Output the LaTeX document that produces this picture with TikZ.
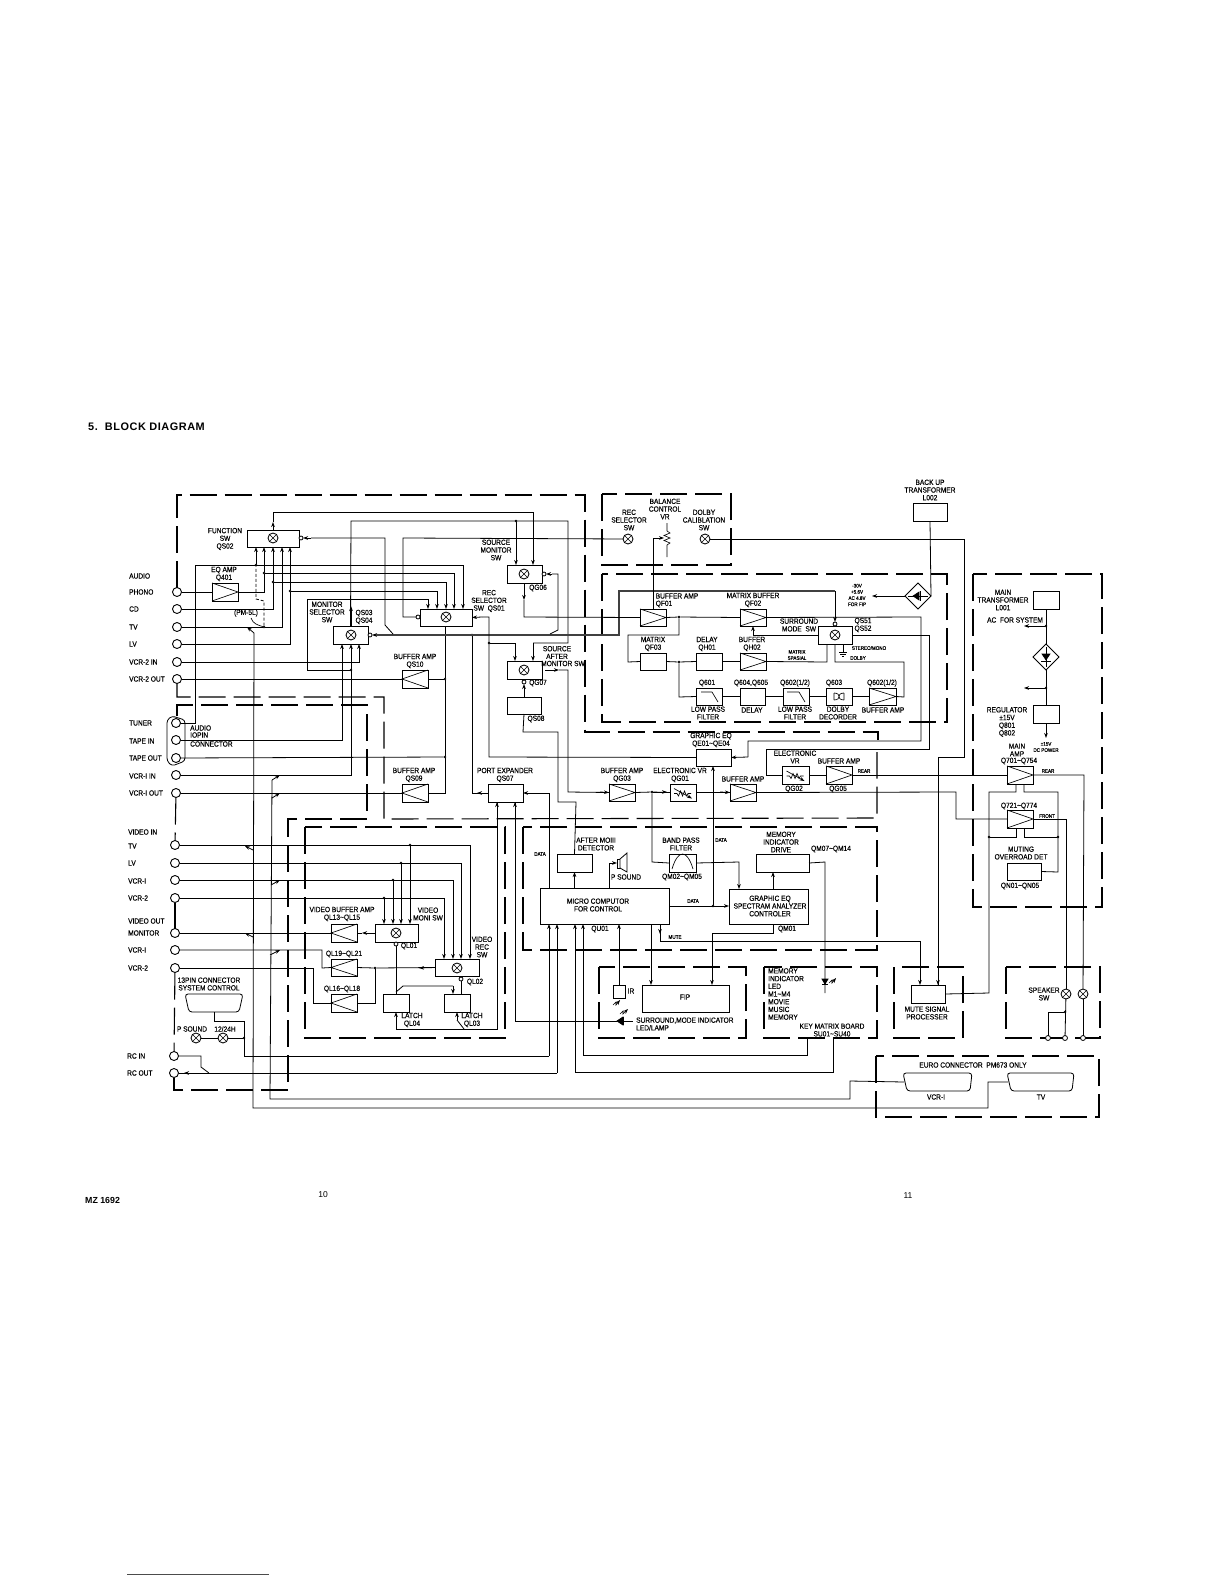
\documentclass[tikz,border=0pt]{standalone}
\usepackage{fontspec}
\usetikzlibrary{arrows.meta,shapes.geometric}
\setmainfont{Liberation Sans}
\newfontfamily\lab{Liberation Sans}[FakeStretch=0.88,FakeBold=0.12]
\newfontfamily\ttlf{Liberation Sans}[LetterSpace=5]
\newcounter{lbl}
\tikzset{
  x=1pt,y=-1pt,
  sig/.style={draw=black,line width=0.8pt,line join=miter},
  dsh/.style={draw=black,line width=1.1pt,dash pattern=on 27pt off 8pt},
  thin sym/.style={draw=black,line width=0.65pt},
  >={Stealth[length=5pt,width=3.6pt]},
  box/.style={draw=black,line width=0.95pt,rectangle,inner sep=0pt,outer sep=0pt,fill=white},
  lb/.style={font=\lab\fontsize{7.5}{7.7}\selectfont,inner sep=0pt,align=center,text=black},
  lbl/.style={lb,align=left,anchor=west},
  tiny lb/.style={font=\lab\fontsize{5.2}{6.2}\selectfont,inner sep=0pt,align=center,text=black},
  jd/.style={circle,fill=black,inner sep=0pt,minimum size=2.8pt,outer sep=0pt},
  smc/.style={circle,draw=black,line width=0.8pt,fill=white,inner sep=0pt,minimum size=4pt,outer sep=0pt},
  cnc/.style={circle,draw=black,line width=0.9pt,fill=white,inner sep=0pt,minimum size=9pt,outer sep=0pt},
  xc/.style={circle,draw=black,line width=0.85pt,fill=white,inner sep=0pt,minimum size=10pt,outer sep=0pt},
  dia/.style={diamond,draw=black,line width=0.95pt,aspect=1,inner sep=0pt,minimum size=26pt,outer sep=0pt,fill=white}
}
\newcommand{\bx}[5]{\pgfmathsetmacro\bw{#4-#2}\pgfmathsetmacro\bh{#5-#3}\node[box,minimum width=\bw pt,minimum height=\bh pt] (#1) at ({(#2+#4)/2},{(#3+#5)/2}) {};}
\newcommand{\ampR}[5]{\bx{#1}{#2}{#3}{#4}{#5}\draw[thin sym] (#1.north west) -- (#1.east) -- (#1.south west);}
\newcommand{\ampL}[5]{\bx{#1}{#2}{#3}{#4}{#5}\draw[thin sym] (#1.north east) -- (#1.west) -- (#1.south east);}
\newcommand{\xcr}[3]{\node[xc] (#1) at (#2,#3) {};\draw[thin sym] (#1.45) -- (#1.225) (#1.135) -- (#1.315);}
\newcommand{\jun}[3]{\node[jd] (#1) at (#2,#3) {};}
\newcommand{\smc}[3]{\node[smc] (#1) at (#2,#3) {};}
\newcommand{\cn}[3]{\node[cnc] (#1) at (#2,#3) {};}
\newcommand{\tx}[3]{\stepcounter{lbl}\node[lb] (t\arabic{lbl}) at (#1,#2) {#3};}
\newcommand{\tl}[3]{\stepcounter{lbl}\node[lbl] (t\arabic{lbl}) at (#1,#2) {#3};}
\newcommand{\ty}[3]{\stepcounter{lbl}\node[tiny lb] (t\arabic{lbl}) at (#1,#2) {#3};}
\newcommand{\til}{{\char"007E}}
\newcommand{\vrsym}[1]{\draw[thin sym] ([xshift=-9pt,yshift=-1pt]#1.center) -- ([xshift=-6pt,yshift=-1pt]#1.center) -- ++(1.5,2.5) -- ++(2,-5) -- ++(2,5) -- ++(2,-5) -- ++(2,5) -- ++(1.5,-2.5) -- ++(3,0);\draw[thin sym,->] ([xshift=-9pt,yshift=4pt]#1.center) -- ([xshift=9pt,yshift=-6pt]#1.center);}
\begin{document}
\begin{tikzpicture}
\useasboundingbox (0,0) rectangle (1224,1584);
\fill[white] (0,0) rectangle (1224,1584);
% connectors
\cn{cPh}{177}{592}\cn{cCd}{177}{609}\cn{cTv}{177}{627}\cn{cLv}{177}{644}\cn{cV2i}{177}{662}\cn{cV2o}{177}{679}
\cn{cTun}{176}{723}\cn{cTi}{176}{740}\cn{cTo}{176}{758}\cn{cV1i}{176}{775}\cn{cV1o}{176}{793}
\cn{vTv}{175}{845}\cn{vLv}{175}{863}\cn{vV1}{175}{880}\cn{vV2}{175}{898}\cn{vMo}{175}{933}\cn{vO1}{175}{950}\cn{vO2}{175}{968}
\cn{cRi}{174}{1056}\cn{cRo}{174}{1073}
% dashed frames
\draw[dsh] (cPh) -- (177,495) -- (585,495) -- (585,732) -- (878,732) -- (878,740);
\draw[dsh] (cV2o) -- (177,697) -- (384,697) -- (384,819) -- (877,818) -- (877,752);
\draw[dsh] (177,716) -- (177,705) -- (367,705) -- (367,819) -- (288,819) -- (288,1090) -- (174,1090) -- (cRo);
\draw[dsh] (cV1o) -- (vTv);
\draw[dsh] (vV2) -- (vMo);
\draw[dsh] (vO2) -- (cRi);
\draw[dsh] (305,827) rectangle (505,1038);
\draw[dsh] (523,827) rectangle (877,950);
\draw[dsh] (602,494) rectangle (731,565);
\draw[dsh] (602,574) rectangle (947,722);
\draw[dsh] (973,574) rectangle (1102,907);
\draw[dsh] (599,967) rectangle (746,1038);
\draw[dsh] (764,967) rectangle (877,1038);
\draw[dsh] (894,967) rectangle (963,1038);
\draw[dsh] (1006,967) rectangle (1100,1038);
\draw[dsh] (876,1056) rectangle (1099,1117);
% 10 pin and other connector outlines
\draw[sig,rounded corners=3pt] (172,716) -- (167,720) -- (167,761) -- (172,766) -- (185,761) -- (185,720) -- cycle;
\draw[sig,rounded corners=3pt] (185,994) -- (243,994) -- (239,1012) -- (189,1012) -- cycle;
\coordinate (c13) at (214,1012);
\draw[sig,rounded corners=3pt] (903,1073) -- (972,1073) -- (970,1091) -- (907,1091) -- cycle;
\coordinate (eV) at (904,1082);
\draw[sig,rounded corners=3pt] (1007,1073) -- (1074,1073) -- (1072,1091) -- (1011,1091) -- cycle;
\coordinate (eT) at (1008,1082);
% junctions
\jun{j1}{256}{565}\jun{j2}{264}{573}\jun{j3}{273}{582}\jun{j4}{290}{591}\jun{j5}{264}{627}
\jun{j6}{351}{670}\jun{j7}{516}{521}\jun{j8}{445}{679}\jun{j9}{445}{757}\jun{j10}{489}{643}\jun{j11}{472}{635}
\jun{j12}{679}{617}\jun{j13}{679}{662}\jun{j14}{652}{792}\jun{j15}{713}{906}
\jun{j16}{410}{845}\jun{j17}{401}{863}\jun{j18}{393}{880}\jun{j19}{384}{898}\jun{j20}{375}{968}\jun{j21}{244}{1038}
\jun{j22}{1046}{626}\jun{j23}{1046}{688}\jun{j24}{989}{837}\jun{j25}{1058}{837}\jun{j26}{1065}{1012}
% boxes
\bx{qs02}{247}{530}{299}{547}\xcr{xqs02}{273}{538}
\ampR{q401}{212}{583}{238}{601}
\bx{qs01}{420}{609}{472}{626}\xcr{xqs01}{446}{617}
\bx{qs03}{333}{626}{368}{644}\xcr{xqs03}{351}{635}
\bx{qg06}{507}{565}{542}{583}\xcr{xqg06}{524}{574}
\bx{qg07}{507}{661}{542}{679}\xcr{xqg07}{524}{670}
\bx{qs08}{507}{697}{541}{714}
\ampL{qs10}{402}{670}{428}{688}
\ampL{qs09}{402}{784}{428}{802}
\bx{qs07}{488}{784}{523}{802}
\ampR{qg03}{609}{784}{635}{801}
\bx{qg01}{670}{784}{696}{801}\vrsym{qg01}
\ampR{qbuf}{730}{784}{756}{801}
\bx{qe01}{696}{749}{731}{766}
\bx{qg02}{782}{766}{809}{784}\vrsym{qg02}
\ampR{qg05}{826}{766}{852}{784}
\ampR{qf01}{640}{609}{666}{626}
\ampR{qf02}{740}{609}{766}{626}
\bx{qf03}{640}{653}{666}{670}
\bx{qh01}{696}{653}{722}{670}
\ampR{qh02}{740}{653}{766}{670}
\bx{qs51}{818}{626}{852}{644}\xcr{xqs51}{835}{635}
\bx{q601}{696}{688}{722}{705}\draw[thin sym] (701,692) -- (712,692) -- (718,702);
\bx{q604}{740}{688}{765}{705}
\bx{q602}{783}{688}{809}{705}\draw[thin sym] (787,692) -- (799,692) -- (805,702);
\bx{q603}{826}{688}{852}{705}\draw[thin sym] (834,693) -- (834,700) (834,693) .. controls (841,693) and (841,700) .. (834,700) (844,693) -- (844,700) (844,693) .. controls (837,693) and (837,700) .. (844,700);
\ampR{q602b}{869}{688}{896}{705}
\bx{l002}{913}{503}{947}{521}
\node[dia] (br2) at (918,596) {};
\draw[thin sym,fill=black] (913,596) -- (919,592) -- (919,600) -- cycle;\draw[thin sym] (908,596) -- (928,596) (920,591) -- (920,601);
\bx{l001}{1033}{591}{1059}{609}
\node[dia] (br1) at (1046,657) {};
\draw[thin sym,fill=black] (1042,654) -- (1050,654) -- (1046,660) -- cycle;\draw[thin sym] (1046,647) -- (1046,667) (1041,661) -- (1051,661);
\bx{q801}{1033}{705}{1059}{723}
\ampR{q701}{1007}{766}{1033}{784}
\ampR{q721}{1007}{810}{1033}{828}
\bx{qn01}{1007}{863}{1041}{880}
\bx{mc}{540}{888}{669}{924}
\bx{det}{557}{854}{592}{872}
\bx{bpf}{669}{854}{696}{872}\draw[thin sym] (672,869) .. controls (678,849) and (687,849) .. (693,869);
\bx{mdr}{756}{854}{809}{872}
\bx{geq}{729}{889}{808}{924}
\bx{ir}{613}{985}{625}{998}
\bx{fip}{642}{985}{729}{1012}
\bx{msp}{911}{985}{945}{1003}
\bx{ql01}{375}{924}{418}{942}\xcr{xql01}{396}{933}
\bx{ql02}{435}{959}{479}{976}\xcr{xql02}{457}{968}
\ampL{ql13}{331}{924}{357}{942}
\ampL{ql19}{331}{959}{357}{976}
\ampL{ql16}{331}{994}{357}{1012}
\bx{ql04}{383}{994}{409}{1012}
\bx{ql03}{444}{994}{470}{1012}
\xcr{xrec}{628}{539}\xcr{xdol}{705}{539}
\xcr{xps}{196}{1038}\xcr{xtf}{223}{1038}
\xcr{xsp1}{1066}{994}\xcr{xsp2}{1083}{994}
\node[smc,minimum size=5pt] (s1) at (1048,1038) {};
\node[smc,minimum size=5pt] (s2) at (1065,1038) {};
\node[smc,minimum size=5pt] (s3) at (1083,1038) {};
\smc{sq2}{301}{538}\smc{sq1}{418}{617}\smc{sq3}{370}{635}\smc{sq6}{544}{574}\smc{sq7}{524}{682}\smc{sq51}{835}{624}\smc{sl1}{396}{944}\smc{sl2}{461}{979}
% QS02/QS01 feeds
\draw[sig,->] (j1) -- (256,0 |- qs02.south);
\draw[sig,->] (j2) -- (264,0 |- qs02.south);
\draw[sig,->] (j3) -- (273,0 |- qs02.south);
\draw[sig,->] (j5) -| (282,0 |- qs02.south);
\draw[sig,->] (j4) -- (290,0 |- qs02.south);
\draw[sig,->] (cTun) -| (195,565) -- (463,565) -- (463,0 |- qs01.north);
\draw[sig,->] (j2) -- (454,573) -- (454,0 |- qs01.north);
\draw[sig,->] (j3) -- (446,582) -- (446,0 |- qs01.north);
\draw[sig,->] (j4) -- (437,591) -- (437,0 |- qs01.north);
\draw[sig,->] (j6) -- (307,670) -- (307,599) -- (428,599) -- (428,0 |- qs01.north);
\draw[sig] (cPh) -- (q401.west);
\draw[sig] (q401.east) -- (264,592) -- (j2);
\draw[sig] (cCd) -- (273,609) -- (j3);
\draw[sig] (cTv) -- (j5);
\draw[sig,dash pattern=on 3pt off 2pt] (j5) -- (264,601) -- (256,599) -- (j1);
\draw[sig] (cLv) -- (290,644) -- (j4);
\draw[thin sym] (251,618) .. controls (253,624) and (258,625) .. (j5);
% QS03 feeds
\draw[sig,->] (cV2i) -- (359,662) -- (359,0 |- qs03.south);
\draw[sig,->] (cV1i) -- (351,775) -- (351,0 |- qs03.south);
\draw[sig,->] (cTi) -- (342,740) -- (342,0 |- qs03.south);
\draw[sig] (cV2o) -- (qs10.west);
\draw[sig] (qs10.east) -- (j8);
\draw[sig] (cV1o) -- (qs09.west);
\draw[sig] (qs09.east) -- (445,793) -- (j9);
\draw[sig] (j9) -- (j8);
\draw[sig] (j8) -- (445,0 |- qs01.south);
\draw[sig] (cTo) -- (j9);
% monitor out
\draw[sig] (qs03.north) -- (351,521) -- (568,521) -- (568,643) -- (533,643);
\draw[sig,->] (351,626) -- (351,606);
\draw[sig,->] (j7) -- (516,0 |- qg06.north);
\draw[sig,->] (533,643) -- (533,0 |- qg07.north);
\draw[sig,->] (qs02.north) -- (273,522);
\draw[sig] (273,522) -- (273,512) -- (533,512);
\draw[sig,->] (533,512) -- (533,0 |- qg06.north);
% control bus
\draw[sig,<-] (sq3) -- (385,635);
\draw[sig,line width=1.2pt,draw=black!75] (376,635) -- (619,635) -- (619,591) -- (835,591);
\draw[sig,->] (835,591) -- (sq51);
\draw[sig,<-] (sq2) -- (311,538);
\draw[sig] (311,538) -- (385,538) -- (385,625) -- (393,634);
\draw[sig,<-] (sq6) -- (552,574);
\draw[sig] (552,574) -- (558,574) -- (558,630) -- (550,634);
\draw[sig] (sq1) -- (403,617) -- (403,538) -- (xrec);
% QS01 out
\draw[sig,<-] (qs01.east) -- (482,617);
\draw[sig] (482,617) -- (489,617) -- (489,757) -- (qe01.west);
\draw[sig,->] (j10) -- (515,643) -- (515,0 |- qg07.north);
\draw[sig,->] (524,583) -- (524,600);
\draw[sig] (524,600) -- (524,617) -- (qf01.west);
\draw[sig] (j11) -- (472,793) -- (qs07.west);
\draw[sig,->] (488,793) -- (477,793);
\draw[sig,->] (545,670) -- (559,670);
\draw[sig] (559,670) -- (568,670) -- (568,792) -- (qg03.west);
\draw[sig,->] (600,792) -- (qg03.west);
\draw[sig,->] (524,697) -- (sq7);
\draw[sig] (qs08.south) -- (523,732) -- (558,732) -- (558,802) -- (576,802) -- (det.north);
% audio board
\draw[sig] (xdol) -- (964,539) -- (964,757) -- (938,757) -- (938,985);
\draw[sig,->] (938,950) -- (938,0 |- msp.north);
\draw[sig] (l002.south) -- (931,596);
\draw[sig,->] (br2.west) -- (872,596);
\draw[sig] (653,609) -- (653,538);
\draw[sig,->] (653,538) -- (664,538);
\draw[thin sym] (667,523) -- (667,531) -- (670,533) -- (664,535.5) -- (670,538) -- (664,540.5) -- (670,543) -- (667,545) -- (667,557);
\draw[sig] (qf01.east) -- (j12);
\draw[sig] (j12) -- (qf02.west);
\draw[sig] (qf02.east) -- (921,617) -- (921,741) -- (748,741) -- (748,757);
\draw[sig,->] (748,757) -- (qe01.east);
\draw[sig] (j12) -- (679,635) -- (628,635) -- (628,662) -- (qf03.west);
\draw[sig] (qf03.east) -- (j13);
\draw[sig] (j13) -- (qh01.west);
\draw[sig] (qh01.east) -- (qh02.west);
\draw[sig] (qh02.east) -- (827,662) -- (827,0 |- qs51.south);
\draw[sig] (j13) -- (679,697) -- (q601.west);
\draw[sig] (q601.east) -- (q604.west);
\draw[sig] (q604.east) -- (q602.west);
\draw[sig] (q602.east) -- (q603.west);
\draw[sig] (q603.east) -- (q602b.west);
\draw[sig] (q602b.east) -- (904,697) -- (904,662) -- (835,662) -- (835,0 |- qs51.south);
\draw[sig,->] (qs51.west) -- (753,635) -- (753,0 |- qf02.south);
\draw[sig] (qs51.east) -- (929,635) -- (929,749) -- (766,749) -- (766,775) -- (qg02.west);
\draw[sig] (843,644) -- (843,652);
\draw[thin sym] (839,652) -- (847,652) (840,654) -- (846,654) (842,656) -- (844,656);
% Graphic / buffers
\draw[sig] (qg03.east) -- (j14);
\draw[sig] (j14) -- (qg01.west);
\draw[sig,->] (j14) -- (667,792);
\draw[sig] (qg01.east) -- (qbuf.west);
\draw[sig,->] (720,792) -- (qbuf.west);
\draw[sig] (qbuf.east) -- (956,792) -- (956,819) -- (q721.west);
\draw[sig] (qg02.east) -- (qg05.west);
\draw[sig] (qg05.east) -- (q701.west);
\draw[sig] (j14) -- (652,862) -- (bpf.west);
\draw[sig,->] (j15) -- (713,0 |- qe01.south);
\draw[sig,->] (mc.east |- j15) -- (geq.west |- j15);
\draw[sig,->] (bpf.east) -- (739,862) -- (739,0 |- geq.north);
\draw[sig,->] (773,0 |- geq.north) -- (773,0 |- mdr.south);
\draw[sig] (mdr.east) -- (825,862) -- (825,993);
\draw[sig,fill=black] (822,979) -- (828,979) -- (825,984) -- cycle;
\draw[thin sym] (822,984) -- (828,984);
\draw[thin sym,->] (829,983) -- (832,980) -- (832,983) -- (836,978);
% power
\draw[sig] (l001.south) -- (br1.north);
\draw[sig,->] (j22) -- (1024,626);
\draw[sig] (br1.south) -- (q801.north);
\draw[sig,->] (j23) -- (1024,688);
\draw[sig,->] (q801.south) -- (1046,738);
\draw[sig] (q701.east) -- (1084,775) -- (xsp2);
\draw[sig] (q721.east) -- (1066,819) -- (xsp1);
\draw[sig] (xsp1) -- (s2);
\draw[sig] (xsp2) -- (s3);
\draw[sig] (s1) -- (1048,1012) -- (j26);
\draw[sig] (1016,784) -- (1016,792) -- (989,792) -- (989,993) -- (msp.east);
\draw[sig] (1024,784) -- (1024,792) -- (1058,792) -- (1058,872) -- (qn01.east);
\draw[sig] (1016,828) -- (1016,837) -- (j24);
\draw[sig] (1024,828) -- (1024,837) -- (j25);
% MC links
\draw[sig,->] (549,793) -- (qs07.east);
\draw[sig] (549,793) -- (549,0 |- mc.north);
\draw[sig,->] (mc.north -| det) -- (det.south);
\draw[sig] (609,888) -- (609,863);
\draw[sig,->] (609,863) -- (617,863);
\draw[sig,fill=white] (617,859) rectangle (620,868);
\draw[sig,fill=white] (620,859) -- (627,853) -- (627,872) -- (620,868) -- cycle;
\draw[sig,->] (651,0 |- mc.south) -- (651,0 |- fip.north);
\draw[sig,->] (773,0 |- geq.south) -- (773,933) -- (712,933) -- (712,0 |- fip.north);
\draw[sig,->] (ir.north) -- (619,0 |- mc.south);
\draw[sig] (660,0 |- mc.south) -- (660,941) -- (920,941);
\draw[sig,->] (660,924) -- (660,934);
\draw[sig,->] (920,941) -- (920,0 |- msp.north);
\draw[sig,->] (549,1056) -- (549,0 |- mc.south);
\draw[sig,->] (557,1073) -- (557,0 |- mc.south);
\draw[sig,->] (575,1072) -- (575,0 |- mc.south);
\draw[sig,->] (583,1055) -- (583,0 |- mc.south);
\draw[sig] (583,1055) -- (807,1055) -- (807,1038);
\draw[sig] (575,1072) -- (833,1072) -- (833,1038);
% lower left
\draw[sig] (c13) -- (214,1021) -- (244,1021) -- (244,1056) -- (549,1056);
\draw[sig] (xps) -- (xtf);
\draw[sig] (xtf) -- (j21);
\draw[sig] (cRi) -- (201,1056) -- (201,1067) -- (209,1073);
\draw[sig,<-] (184,1073) -- (194,1073);
\draw[sig] (cRo) -- (557,1073);
% video
\draw[sig] (vTv) -- (470,845);
\draw[sig,->] (470,845) -- (470,0 |- ql02.north);
\draw[sig,->] (j16) -- (410,0 |- ql01.north);
\draw[sig] (vLv) -- (461,863);
\draw[sig,->] (461,863) -- (461,0 |- ql02.north);
\draw[sig,->] (j17) -- (401,0 |- ql01.north);
\draw[sig] (vV1) -- (453,880);
\draw[sig,->] (453,880) -- (453,0 |- ql02.north);
\draw[sig,->] (j18) -- (393,0 |- ql01.north);
\draw[sig] (vV2) -- (444,898);
\draw[sig,->] (444,898) -- (444,0 |- ql02.north);
\draw[sig,->] (j19) -- (384,0 |- ql01.north);
\draw[sig] (vMo) -- (ql13.west);
\draw[sig,->] (ql01.west) -- (362,933);
\draw[sig] (362,933) -- (ql13.east);
\draw[sig] (vO1) -- (322,950) -- (322,968) -- (ql19.west);
\draw[sig] (vO2) -- (313,968) -- (313,1003) -- (ql16.west);
\draw[sig] (ql16.east) -- (375,1003) -- (j20);
\draw[sig] (ql19.east) -- (j20);
\draw[sig] (j20) -- (ql02.west);
\draw[sig,->] (ql02.west) -- (419,968);
\draw[sig] (sl1) -- (396,0 |- ql04.north);
\draw[sig] (sl2) -- (461,0 |- ql03.north);
\draw[sig] (396,992) -- (403,986) -- (453,986);
\draw[sig,->] (453,986) -- (453,0 |- ql03.north);
% port expander down
\draw[sig,->] (497,819) -- (497,0 |- qs07.south);
\draw[sig,->] (515,819) -- (515,0 |- qs07.south);
\draw[sig,<-] (396,0 |- ql04.south) -- (396,1029);
\draw[sig] (396,1029) -- (497,1029) -- (497,802);
\draw[sig,<-] (457,0 |- ql03.south) -- (457,1020);
\draw[sig] (457,1020) -- (464,1029);
\draw[sig] (515,802) -- (515,1021) -- (617,1021);
\draw[sig,fill=black] (623,1017) -- (623,1025) -- (617,1021) -- cycle;
\draw[thin sym] (623,1017) -- (623,1025) (623,1021) -- (633,1021);
\draw[thin sym,->] (620,1014) -- (623,1011) -- (623,1014) -- (628,1009);
\draw[thin sym,->] (613,1005) -- (616,1002) -- (616,1005) -- (620,1000);
% long bus
\draw[sig] (254,633) -- (253,1108) -- (988,1108) -- (988,1082) -- (eT);
\draw[sig] (272,780) -- (270,1099) -- (850,1099) -- (850,1081) -- (eV);
\draw[sig,<-] (247,627) -- (254,633);
\draw[sig,<-] (245,846) -- (253,850);
\draw[sig,<-] (245,933) -- (253,937);
\draw[sig,->] (272,780) -- (280,775);
\draw[sig,->] (272,798) -- (280,793);
\draw[sig,->] (271,885) -- (280,880);
\draw[sig,->] (270,955) -- (280,950);
% LABELS
\node[font=\ttlf\bfseries\fontsize{10.9}{12}\selectfont,inner sep=0pt,anchor=west,text=black] (title) at (88,427) {5.\ \ BLOCK DIAGRAM};
\node[font=\bfseries\fontsize{8.8}{10}\selectfont,inner sep=0pt,anchor=west,text=black] (mz) at (85,1200) {MZ 1692};
\node[font=\fontsize{8.5}{10}\selectfont,inner sep=0pt,text=black] (p10) at (323,1195) {10};
\node[font=\fontsize{8.5}{10}\selectfont,inner sep=0pt,text=black] (p11) at (908,1196) {11};
\draw[draw=black!70,line width=0.9pt] (127,1574) -- (269,1574);
\tl{129}{576}{AUDIO}\tl{129}{592}{PHONO}\tl{129}{609}{CD}\tl{129}{627}{TV}\tl{129}{644}{LV}\tl{129}{662}{VCR-2 IN}\tl{129}{679}{VCR-2 OUT}
\tl{129}{723}{TUNER}\tl{129}{741}{TAPE IN}\tl{129}{758}{TAPE OUT}\tl{129}{776}{VCR-I IN}\tl{129}{793}{VCR-I OUT}
\tl{128}{832}{VIDEO IN}\tl{128}{846}{TV}\tl{128}{863}{LV}\tl{128}{881}{VCR-I}\tl{128}{898}{VCR-2}\tl{128}{921}{VIDEO OUT}\tl{128}{933}{MONITOR}\tl{128}{950}{VCR-I}\tl{128}{968}{VCR-2}\tl{127}{1056}{RC IN}\tl{127}{1073}{RC OUT}
\tl{190}{728}{AUDIO}\tl{190}{735}{IOPIN}\tl{190}{744}{CONNECTOR}
\tx{225}{539}{FUNCTION\\SW\\QS02}\tx{224}{574}{EQ AMP\\Q401}\tx{246}{613}{(PM-5L)}
\tx{327}{612}{MONITOR\\SELECTOR\\SW}\tx{364}{617}{QS03\\QS04}
\tx{496}{550}{SOURCE\\MONITOR\\SW}\tx{538}{588}{QG06}\tx{489}{601}{REC\\SELECTOR\\SW\ \ QS01}
\tx{415}{661}{BUFFER AMP\\QS10}\tx{557}{652.5}{SOURCE\\AFTER}\tx{563}{663.5}{MONITOR SW}\tx{538}{683}{QG07}\tx{536}{719}{QS08}
\tx{414}{775}{BUFFER AMP\\QS09}\tx{505}{775}{PORT EXPANDER\\QS07}
\tx{930}{490}{BACK UP\\TRANSFORMER\\L002}\tx{665}{509}{BALANCE\\CONTROL\\VR}\tx{629}{520}{REC\\SELECTOR\\SW}\tx{704}{520}{DOLBY\\CALIBLATION\\SW}
\tx{677}{596}{BUFFER AMP}\tx{664}{604}{QF01}\tx{753}{600}{MATRIX BUFFER\\QF02}
\ty{857}{595}{-30V\\+5.6V\\AC 4.8V\\FOR FIP}
\tx{799}{625}{SURROUND\\MODE\ \ SW}\tx{863}{625}{QS51\\QS52}
\tx{653}{644}{MATRIX\\QF03}\tx{707}{644}{DELAY\\QH01}\tx{752}{644}{BUFFER\\QH02}
\ty{797}{655}{MATRIX\\SPASIAL}\ty{869}{648}{STEREO/MONO}\ty{858}{658}{DOLBY}
\tx{707}{683}{Q601}\tx{751}{683}{Q604,Q605}\tx{795}{683}{Q602(1/2)}\tx{834}{683}{Q603}\tx{882}{683}{Q602(1/2)}
\tx{708}{713}{LOW PASS\\FILTER}\tx{752}{710}{DELAY}\tx{795}{713}{LOW PASS\\FILTER}\tx{838}{713}{DOLBY\\DECORDER}\tx{883}{710}{BUFFER AMP}
\tx{711}{740}{GRAPHIC EQ\\QE01\til QE04}\tx{795}{757}{ELECTRONIC\\VR}\tx{839}{761}{BUFFER AMP}\ty{864}{771}{REAR}
\tx{794}{789}{QG02}\tx{838}{789}{QG05}
\tx{622}{775}{BUFFER AMP\\QG03}\tx{680}{775}{ELECTRONIC VR\\QG01}\tx{743}{779}{BUFFER AMP}
\tx{1003}{600}{MAIN\\TRANSFORMER\\L001}\tx{1015}{620}{AC\ \ FOR SYSTEM}
\tx{1007}{722}{REGULATOR\\±15V\\Q801\\Q802}
\tx{1017}{750}{MAIN\\AMP}\tx{1019}{761}{Q701\til Q754}\ty{1046}{747}{±15V\\DC POWER}\ty{1048}{771}{REAR}
\tx{1019}{806}{Q721\til Q774}\ty{1047}{816}{FRONT}\tx{1021}{853}{MUTING\\OVERROAD DET}\tx{1020}{886}{QN01\til QN05}
\tx{681}{844}{BAND PASS\\FILTER}\tx{682}{877}{QM02\til QM05}\ty{721}{840}{DATA}
\tx{781}{842}{MEMORY\\INDICATOR\\DRIVE}\tx{831}{849}{QM07\til QM14}
\tx{770}{906}{GRAPHIC EQ\\SPECTRAM ANALYZER\\CONTROLER}\tx{787}{929}{QM01}\ty{693}{901}{DATA}
\tx{598}{905}{MICRO COMPUTOR\\FOR CONTROL}\tx{600}{929}{QU01}\tx{596}{844}{AFTER MOIII\\DETECTOR}\tx{626}{877}{P SOUND}\ty{540}{854}{DATA}
\ty{675}{937}{MUTE}\tx{685}{997}{FIP}\tx{631}{991}{IR}
\tl{636}{1024}{SURROUND,MODE INDICATOR\\LED/LAMP}
\tl{768}{994}{MEMORY\\INDICATOR\\LED\\M1\til M4\\MOVIE\\MUSIC\\MEMORY}
\tx{832}{1030}{KEY MATRIX BOARD\\SU01\til SU40}\tx{927}{1013}{MUTE SIGNAL\\PROCESSER}\tx{1044}{994}{SPEAKER\\SW}
\tx{973}{1065}{EURO CONNECTOR\ \ PM673 ONLY}\tx{936}{1097}{VCR-I}\tx{1041}{1097}{TV}
\tx{342}{914}{VIDEO BUFFER AMP\\QL13\til QL15}\tx{428}{914}{VIDEO\\MONI SW}\tx{409}{946}{QL01}\tx{344}{954}{QL19\til QL21}\tx{342}{989}{QL16\til QL18}
\tx{482}{947}{VIDEO\\REC\\SW}\tx{475}{982}{QL02}\tx{412}{1020}{LATCH\\QL04}\tx{472}{1020}{LATCH\\QL03}
\tx{209}{984}{13PIN CONNECTOR\\SYSTEM CONTROL}\tx{192}{1029}{P SOUND}\tx{225}{1029}{12/24H}
\end{tikzpicture}
\end{document}
